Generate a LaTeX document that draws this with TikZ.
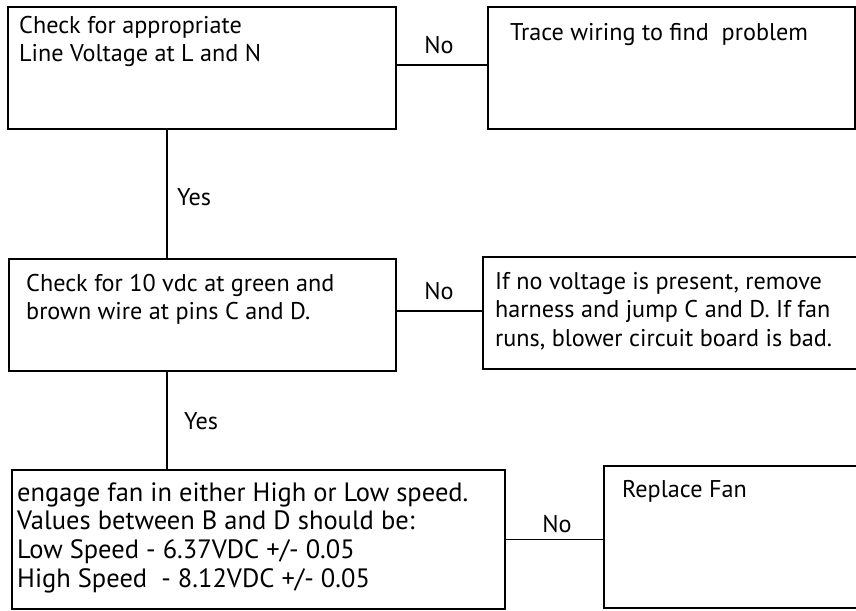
\documentclass[tikz,border=0pt]{standalone}
\usepackage{fontspec}
\setmainfont{PT Sans}
\begin{document}
\begin{tikzpicture}[x=1pt,y=-1pt,
  box/.style={draw, line width=1.1pt, inner sep=0, rectangle},
  txt/.style={anchor=north west, inner sep=0, align=left, font=\fontsize{24.2}{28.7}\selectfont},
  bigtxt/.style={txt, font=\fontsize{26.5}{28.8}\selectfont},
  lbl/.style={anchor=base, inner sep=0, font=\fontsize{24.2}{28.7}\selectfont},
  conn/.style={line width=1.1pt}]
\useasboundingbox (0,0) rectangle (856,610);
\clip (0,0) rectangle (856,610);
% boxes
\node[box, minimum width=388, minimum height=122] (b1) at (202,68) {};
\node[box, minimum width=367, minimum height=122] (b2) at (671.5,68) {};
\node[box, minimum width=387, minimum height=112] (b3) at (202.5,315) {};
\node[box, minimum width=375, minimum height=112] (b4) at (670.5,313) {};
\node[box, minimum width=493, minimum height=139] (b5) at (258.5,539.5) {};
\node[box, minimum width=256, minimum height=142] (b6) at (732,537) {};
% texts (top = baseline - 0.7 baselineskip)
\node[txt] (t1) at (19,12.9) {\strut Check for appropriate\\Line Voltage at L and N};
\node[txt] (t2) at (510,19.9) {\strut Trace wiring to find\ \ problem};
\node[txt] (t3) at (26,270.9) {\strut Check for 10 vdc at green and\\brown wire at pins C and D.};
\node[txt] (t4) at (495,268.9) {\strut If no voltage is present, remove\\harness and jump C and D. If fan\\runs, blower circuit board is bad.};
\node[bigtxt] (t5) at (17,480.8) {\strut engage fan in either High or Low speed.\\Values between B and D should be:\\Low Speed - 6.37VDC +/- 0.05\\High Speed\ \ - 8.12VDC +/- 0.05};
\node[txt] (t6) at (622,476.9) {\strut Replace Fan};
% connectors
\draw[conn] ([yshift=3pt]b1.east) -- ([yshift=3pt]b1.east -| b2.west);
\draw[conn] ([xshift=-35pt]b1.south) -- ([xshift=-35pt]b1.south |- b3.north);
\draw[conn] ([yshift=4pt]b3.east) -- ([yshift=4pt]b3.east -| b4.west);
\draw[conn] ([xshift=-35.5pt]b3.south) -- ([xshift=-35.5pt]b3.south |- b5.north);
\draw[conn] (b5.east) -- (b5.east -| b6.west);
% labels
\node[lbl] (n1) at (439,53) {No};
\node[lbl] (n2) at (439,299) {No};
\node[lbl] (n3) at (557,532) {No};
\node[lbl, anchor=base west] (y1) at (177,205) {Yes};
\node[lbl, anchor=base west] (y2) at (184,429) {Yes};
\end{tikzpicture}
\end{document}
